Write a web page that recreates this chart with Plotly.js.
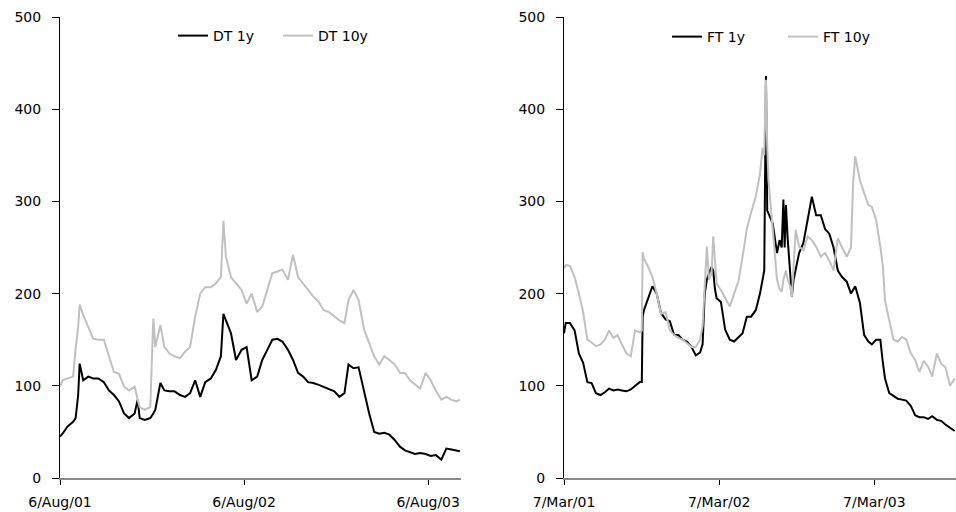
<!DOCTYPE html>
<html>
<head>
<meta charset="utf-8">
<script src="https://cdn.plot.ly/plotly-3.0.1.min.js"></script>
<style>html,body{margin:0;padding:0;background:#fff;}#chart{width:956px;height:512px;}</style>
</head>
<body>
<div id="chart"></div>
<script>
// ---- Left panel: DT ----
const dtDates = ["2001-08-06","2001-08-11","2001-08-21","2001-09-01","2001-09-06","2001-09-11","2001-09-14","2001-09-21",
"2001-10-01","2001-10-11","2001-10-21","2001-11-01","2001-11-11","2001-11-21","2001-12-01","2001-12-11","2001-12-21",
"2002-01-01","2002-01-07","2002-01-11","2002-01-21","2002-02-01","2002-02-07","2002-02-11","2002-02-21",
"2002-03-01","2002-03-11","2002-03-21","2002-04-01","2002-04-11","2002-04-21","2002-05-01","2002-05-11","2002-05-21",
"2002-06-01","2002-06-11","2002-06-21","2002-06-26","2002-07-01","2002-07-11","2002-07-21","2002-08-01","2002-08-11","2002-08-21",
"2002-09-01","2002-09-11","2002-09-21","2002-10-01","2002-10-11","2002-10-21","2002-11-01","2002-11-11","2002-11-21",
"2002-12-01","2002-12-11","2002-12-21","2003-01-01","2003-01-11","2003-01-21","2003-02-01","2003-02-11","2003-02-21",
"2003-03-01","2003-03-11","2003-03-21","2003-04-01","2003-04-11","2003-04-21","2003-05-01","2003-05-11","2003-05-21",
"2003-06-01","2003-06-11","2003-06-21","2003-07-01","2003-07-11","2003-07-21","2003-08-01","2003-08-11","2003-08-21",
"2003-09-01","2003-09-11","2003-09-21","2003-10-01","2003-10-08"];
const dt1y = [45,48,56,61,65,90,124,106,
110,108,108,104,95,90,83,70,65,
70,85,65,63,65,70,74,103,
95,94,94,90,88,92,106,88,104,
108,117,132,178,171,157,128,139,142,106,
110,128,139,150,151,148,139,128,114,
110,104,103,101,99,97,94,88,92,
123,119,120,92,70,50,48,49,47,
41,34,30,28,26,27,26,24,25,
20,32,31,30,29];
const dt10y = [99,106,108,110,140,164,188,177,
164,151,150,150,132,115,113,99,95,
99,85,77,74,77,173,142,166,
142,135,132,130,137,142,175,200,207,
207,211,218,279,240,218,211,204,189,200,
180,186,204,222,224,226,215,242,218,
211,204,197,191,182,180,175,171,168,
193,204,193,161,146,132,123,132,128,
123,114,114,106,101,97,114,106,95,
85,88,85,83,85];
const dtTickVals = ["2001-08-06","2002-08-06","2003-08-06"];
const dtTickText = ["6/Aug/01","6/Aug/02","6/Aug/03"];

// ---- Right panel: FT ----
const ftDates = ["2001-03-07","2001-03-11","2001-03-21","2001-04-01","2001-04-11","2001-04-21","2001-05-01","2001-05-11","2001-05-21",
"2001-06-01","2001-06-11","2001-06-21","2001-07-01","2001-07-11","2001-07-21","2001-08-01","2001-08-11","2001-08-21",
"2001-09-01","2001-09-06","2001-09-08","2001-09-11","2001-09-21","2001-10-01","2001-10-11","2001-10-21",
"2001-11-01","2001-11-11","2001-11-21","2001-12-01","2001-12-11","2001-12-21",
"2002-01-01","2002-01-11","2002-01-21","2002-01-27","2002-02-01","2002-02-06","2002-02-11","2002-02-17","2002-02-21","2002-02-25",
"2002-03-01","2002-03-11","2002-03-21","2002-04-01","2002-04-11","2002-04-21","2002-05-01","2002-05-11","2002-05-21",
"2002-06-01","2002-06-11","2002-06-17","2002-06-21","2002-06-25","2002-06-28","2002-07-01","2002-07-11","2002-07-21","2002-07-27",
"2002-08-01","2002-08-05","2002-08-08","2002-08-11","2002-08-15","2002-08-21","2002-08-25","2002-08-29","2002-09-03","2002-09-11","2002-09-21",
"2002-10-01","2002-10-11","2002-10-21","2002-11-01","2002-11-11","2002-11-21","2002-12-01","2002-12-11","2002-12-21",
"2003-01-01","2003-01-11","2003-01-16","2003-01-21","2003-02-01","2003-02-11","2003-02-21","2003-03-01","2003-03-11","2003-03-21","2003-03-27",
"2003-04-01","2003-04-11","2003-04-21","2003-05-01","2003-05-11","2003-05-21","2003-06-01","2003-06-11","2003-06-21",
"2003-07-01","2003-07-11","2003-07-21","2003-08-01","2003-08-11","2003-08-21","2003-09-01","2003-09-12"];
const ft1y = [157,168,168,160,135,125,104,103,92,
90,93,97,95,96,95,94,96,100,
104,104,175,182,195,208,200,179,
172,170,155,155,150,148,
142,133,136,145,200,215,222,229,225,205,
195,191,161,150,148,152,157,175,175,
182,200,215,225,436,290,287,276,244,258,
250,302,250,296,260,220,197,215,225,244,255,
280,305,285,285,270,265,250,225,218,
213,200,204,208,190,155,148,145,150,150,125,
108,92,89,86,85,84,78,68,66,
66,64,67,63,62,58,54,51];
const ft10y = [227,231,230,218,200,180,150,147,143,
145,150,160,152,155,145,135,132,160,
158,160,245,238,229,218,200,178,
180,160,155,152,150,146,
142,142,150,165,215,251,215,222,262,230,
211,204,195,186,200,213,240,270,288,
305,330,358,350,432,360,323,270,215,205,
202,215,222,225,215,208,197,233,269,251,247,
262,258,251,240,244,236,225,260,250,
240,250,320,349,323,309,296,294,280,251,230,
192,172,150,148,153,150,135,128,115,
127,121,110,135,124,120,100,108];
const ftTickVals = ["2001-03-07","2002-03-07","2003-03-07"];
const ftTickText = ["7/Mar/01","7/Mar/02","7/Mar/03"];

const yTicks = [0,100,200,300,400,500];

const FONT = {family: "DejaVu Sans, Arial, sans-serif", size: 14, color: "#000"};
const BLACK = "#000000", GREY = "#c0c0c0";

const traces = [
  {x: dtDates, y: dt1y, name: "DT 1y", type: "scatter", mode: "lines", line: {color: BLACK, width: 2}, xaxis: "x", yaxis: "y", legend: "legend"},
  {x: dtDates, y: dt10y, name: "DT 10y", type: "scatter", mode: "lines", line: {color: GREY, width: 2}, xaxis: "x", yaxis: "y", legend: "legend"},
  {x: ftDates, y: ft1y, name: "FT 1y", type: "scatter", mode: "lines", line: {color: BLACK, width: 2}, xaxis: "x2", yaxis: "y2", legend: "legend2"},
  {x: ftDates, y: ft10y, name: "FT 10y", type: "scatter", mode: "lines", line: {color: GREY, width: 2}, xaxis: "x2", yaxis: "y2", legend: "legend2"}
];

function xax(domain, range, vals, text, anchor) {
  return {domain: domain, type: "date", range: range, anchor: anchor, tickmode: "array", tickvals: vals, ticktext: text,
    ticks: "outside", ticklen: 5, tickcolor: "#000", tickwidth: 1, showline: true, linecolor: "#888", linewidth: 1.5,
    showgrid: false, zeroline: false, tickfont: FONT, ticklabelstandoff: 6};
}
function yax(anchor) {
  return {domain: [0, 1], range: [0, 500], anchor: anchor, tickmode: "array", tickvals: yTicks,
    ticks: "outside", ticklen: 7, tickcolor: "#000", tickwidth: 1, showline: true, linecolor: "#000", linewidth: 1,
    showgrid: false, zeroline: false, tickfont: FONT, ticklabelstandoff: 8};
}

const layout = {
  width: 956, height: 512,
  margin: {l: 60, r: 0, t: 17, b: 34},
  paper_bgcolor: "#fff", plot_bgcolor: "#fff",
  font: FONT,
  showlegend: true,
  xaxis: xax([0, 0.4475], ["2001-08-06", "2003-10-10"], dtTickVals, dtTickText, "y"),
  yaxis: yax("x"),
  xaxis2: xax([0.5625, 1], ["2001-03-07", "2003-09-15"], ftTickVals, ftTickText, "y2"),
  yaxis2: yax("x2"),
  legend: {orientation: "h", x: 0.1261, xanchor: "left", y: 0.9588, yanchor: "middle", entrywidth: 60,
    bgcolor: "rgba(0,0,0,0)", font: FONT, traceorder: "normal"},
  legend2: {orientation: "h", x: 0.6775, xanchor: "left", y: 0.9566, yanchor: "middle", entrywidth: 71,
    bgcolor: "rgba(0,0,0,0)", font: FONT, traceorder: "normal"}
};

Plotly.newPlot("chart", traces, layout, {displayModeBar: false, staticPlot: true});
</script>
</body>
</html>
